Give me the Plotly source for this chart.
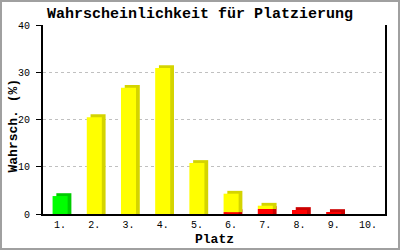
import plotly.graph_objects as go

places = ["1.", "2.", "3.", "4.", "5.", "6.", "7.", "8.", "9.", "10."]
green = [3.8, 0, 0, 0, 0, 0, 0, 0, 0, 0]
yellow = [0, 20.5, 26.7, 30.9, 10.8, 3.9, 0.7, 0, 0, 0]
red = [0, 0, 0, 0, 0, 0.4, 1.06, 0.85, 0.42, 0]

W, H = 400, 250
ML, MR, MT, MB = 43, 15, 25, 36
PW, PH = W - ML - MR, H - MT - MB
BAR_W = 0.44
DX = 0.11   # 3D depth, category units
DY = 0.6    # 3D depth, value units

xs = list(range(1, len(places) + 1))
fig = go.Figure()

series = [(red, "#ff0000", "#cc0000"), (yellow, "#ffff00", "#d4d400"), (green, "#00ff00", "#00cc00")]
base = [0.0] * len(xs)
for vals, front, side in series:
    b = list(base)
    sx, sbase, sh = [], [], []
    fx, fbase, fh = [], [], []
    for i, v in enumerate(vals):
        if v > 0:
            sx.append(xs[i]); sbase.append(b[i]); sh.append(v + DY)
            fx.append(xs[i]); fbase.append(b[i]); fh.append(v)
    fig.add_trace(go.Bar(x=sx, y=sh, base=sbase, width=BAR_W, offset=-BAR_W / 2 + DX,
                         marker=dict(color=side, line=dict(width=0)), hoverinfo="skip"))
    fig.add_trace(go.Bar(x=fx, y=fh, base=fbase, width=BAR_W, offset=-BAR_W / 2,
                         marker=dict(color=front, line=dict(width=0))))
    base = [base[i] + vals[i] for i in range(len(xs))]

mono = "Liberation Mono, Courier New, monospace"
fig.update_layout(
    width=W, height=H,
    margin=dict(l=ML, r=MR, t=MT, b=MB, autoexpand=False),
    barmode="overlay", showlegend=False,
    paper_bgcolor="white", plot_bgcolor="white",
    font=dict(family=mono, size=10, color="black"),
    title=dict(text="<b>Wahrscheinlichkeit für Platzierung</b>", x=0.5, xanchor="center",
               y=1 - 13 / H, yanchor="middle", yref="container",
               font=dict(family=mono, size=15, color="black")),
    xaxis=dict(range=[0.5, len(xs) + 0.5], tickvals=xs, ticktext=places, automargin=False,
               showgrid=False, zeroline=False, showline=True, linecolor="black", linewidth=2,
               ticks="", tickfont=dict(family=mono, size=10)),
    yaxis=dict(range=[0, 40], dtick=10, showgrid=True, gridcolor="#c0c0c0", griddash="3px,3px",
               gridwidth=1, zeroline=False, showline=True, linecolor="black", linewidth=2,
               mirror=True, ticks="outside", ticklen=5, tickwidth=1, tickcolor="black",
               automargin=False, ticklabelstandoff=4, tickfont=dict(family=mono, size=10)),
)
fig.add_annotation(text="<b>Platz</b>", xref="paper", yref="paper", x=0.5, y=-(239 - 214) / PH,
                   xanchor="center", yanchor="middle", showarrow=False,
                   font=dict(family=mono, size=13, color="black"))
fig.add_annotation(text="<b>Wahrsch. (%)</b>", xref="paper", yref="paper", x=-(43 - 12.5) / PW,
                   y=(214 - 126) / PH,
                   xanchor="center", yanchor="middle", textangle=-90, showarrow=False,
                   font=dict(family=mono, size=13, color="black"))
fig.add_shape(type="rect", xref="paper", yref="paper",
              x0=(-ML + 1) / PW, x1=1 + (MR - 1) / PW,
              y0=(-MB + 1) / PH, y1=1 + (MT - 1) / PH,
              line=dict(color="#a0a0a0", width=2), layer="below")
fig.write_html("out.html")
